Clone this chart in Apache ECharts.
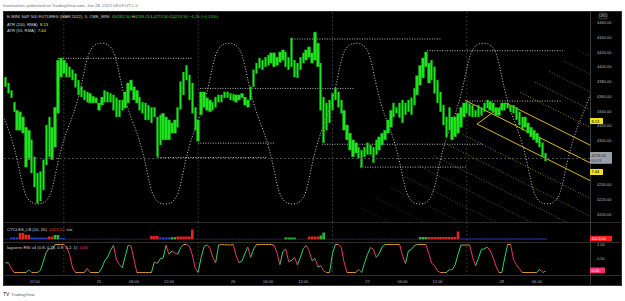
<!DOCTYPE html>
<html>
<head>
<meta charset="utf-8">
<script src="https://cdn.jsdelivr.net/npm/echarts@6/dist/echarts.min.js"></script>
<style>
  html, body { margin: 0; padding: 0; background: #fff; }
  #chart { width: 625px; height: 301px; }
</style>
</head>
<body>
<div id="chart"></div>
<script>
// ---- data (x values are half-hour bar slots from the left edge of the chart) ----
var priceLow = [4373,4364,4358,4339,4314,4314,4310,4264,4274,4256,4237,4215,4218,4233,4267,4278,4274,4291,4337,4386,
  4391,4386,4386,4382,4372,4362,4359,4355,4352,4351,4351,4351,4341,4348,4352,4352,4352,4341,4332,4332,
  4341,4344,4351,4368,4355,4351,4341,4337,4328,4328,4324,4332,4278,4294,4301,4301,4301,4310,4310,4318,
  4342,4362,4382,4355,4337,4314,4299,4335,4345,4341,4339,4341,4345,4352,4352,4358,4358,4355,4354,4352,
  4355,4358,4348,4345,4355,4373,4391,4398,4396,4400,4402,4405,4400,4402,4406,4409,4400,4396,4400,4386,
  4385,4396,4405,4409,4413,4405,4409,4400,4341,4297,4314,4324,4341,4355,4345,4337,4314,4301,4287,4278,
  4283,4276,4264,4278,4281,4281,4270,4281,4287,4294,4301,4310,4318,4332,4337,4331,4324,4335,4339,4335,
  4348,4362,4375,4385,4400,4378,4382,4364,4351,4339,4321,4305,4314,4301,4305,4310,4318,4332,4337,4333,
  4332,4332,4332,4334,4339,4344,4341,4339,4334,4334,4341,4341,4344,4339,4337,4328,4321,4314,4318,4310,
  4305,4301,4297,4291,4278,4272];
var priceHigh = [4386,4378,4368,4352,4341,4339,4332,4318,4314,4301,4278,4256,4258,4274,4321,4332,4318,4345,4409,4412,
  4409,4405,4400,4396,4391,4382,4373,4368,4366,4364,4360,4358,4351,4359,4368,4366,4364,4362,4358,4355,
  4355,4366,4378,4382,4373,4368,4359,4352,4351,4348,4345,4345,4332,4335,4337,4332,4328,4324,4328,4345,
  4380,4393,4402,4389,4378,4345,4328,4366,4366,4358,4355,4352,4359,4362,4362,4366,4366,4364,4363,4362,
  4362,4364,4359,4355,4373,4396,4405,4412,4409,4413,4416,4419,4419,4413,4420,4423,4420,4413,4439,4409,
  4405,4413,4419,4423,4427,4419,4447,4432,4405,4359,4351,4355,4364,4371,4366,4355,4341,4321,4310,4301,
  4297,4291,4287,4291,4297,4294,4291,4301,4305,4310,4314,4328,4341,4351,4345,4351,4355,4351,4355,4358,
  4371,4388,4402,4412,4420,4405,4409,4400,4382,4366,4348,4332,4345,4332,4332,4337,4345,4351,4352,4350,
  4348,4341,4348,4345,4351,4355,4353,4351,4345,4344,4351,4351,4351,4348,4348,4345,4339,4332,4332,4324,
  4318,4314,4310,4305,4297,4283];
var lastClose = 4276.5;

var rsiValues = [0.34,0.35,0.14,0,0,0,0,0,0.09,0,0,0,0.08,0.41,0.73,0.86,0.83,1,1,1,
  1,0.9,0.63,0.16,0,0,0,0,0.14,0,0,0,0,0.16,0.42,0.55,0.79,0.97,0.45,0.29,
  0.17,0.57,0.97,0.95,0.48,0,0,0,0,0,0,0.38,0.32,0.49,0.52,0.97,0.65,0.77,0.7,0.65,
  0.89,1,1,0.94,0.63,0.15,0,0.53,0.92,0.99,0.87,0.55,0.35,0.98,1,0.99,0.99,0.98,1,0.6,
  0.35,0.41,0.67,0.91,0.54,0.84,1,1,1,1,1,1,0.97,0.71,0.28,0.74,0.84,0.39,0.43,0.54,
  0.27,0.54,0.85,0.97,0.77,0.42,0.51,0.2,0.24,0.05,0,0,0.68,1,1,0.9,0.36,0,0,0,
  0,0.11,0,0.35,0.65,0.89,0.83,0.54,0.68,0.91,1,1,1,1,1,1,0.6,0.32,0.77,0.82,
  0.96,1,1,1,1,0.67,0.33,0.24,0.05,0,0,0,0.1,0.1,0.27,0.65,0.98,0.98,0.98,0.98,
  0.54,0.24,0.51,0.83,0.84,0.91,0.79,0.53,0.23,0,0,0.53,1,1,0.47,0.28,0.14,0,0,0,
  0,0,0,0.12,0,0.05];

// cycles histogram: [first slot, last slot, height, tone]
var cycleRuns = [[0,1,0.8,'d'],[2,4,2,'b'],[5,6,6.5,'r'],[7,8,4.8,'r'],[9,14,2,'b'],[15,16,3,'r'],[17,18,4.5,'g'],
  [19,20,1.5,'b'],[21,49,0.8,'d'],[50,52,3.5,'r'],[53,56,2,'b'],[57,58,2.3,'g'],[59,63,3,'r'],[64,64,10,'r'],
  [65,95,0.8,'d'],[96,99,2,'g'],[100,103,0.8,'d'],[104,107,3,'r'],[108,108,4,'g'],[109,109,7,'g'],
  [110,141,0.8,'d'],[142,144,2.5,'g'],[145,154,2.5,'r'],[155,155,8,'r'],[156,185,1,'b']];

// 4280 and 4260 sit under the last-price and ATR boxes, as in the source
var priceTicks = [4200,4220,4240,4300,4320,4340,4360,4380,4400,4420,4440,4460];
var rsiTicks = [0.5, 1];
var timeTickPos = [10,32,44,56,78,90,102,124,136,148,170,182];
var timeTickText = ['12:00','25','06:00','12:00','26','06:00','12:00','27','06:00','12:00','28','06:00'];
var sessionBreaks = [20,66,112,158];

// sine line drawing: peaks, troughs and crossings
var sineX = [-10.7,0.2,11.1,22,32.9,43.8,54.7,65.6,76.5,87.4,98.3,109.2,120.1,131,141.9,152.8,163.7,174.6,185.5,196.4,207.3];
var sineY = [4432,4323,4214,4323,4432,4323,4214,4323,4432,4323,4214,4323,4432,4323,4214,4323,4432,4323,4214,4323,4432];

// dotted horizontal levels: [from slot, to slot, price]
var levelSegments = [[18,64.2,4411.5],[65.9,92.3,4296.5],[52.2,89.6,4277],[66.6,119.7,4370.7],[98.1,149.5,4437.7],
  [144.4,190.9,4421.8],[108.4,163.5,4295],[121.4,158.1,4264],[158.1,190.6,4353.6]];

// parallel channel anchors and extension levels (in half widths, 0 = lower line, 2 = upper line)
var channelLowerStart = [161.5, 4322.4];
var channelUpperStart = [171.4, 4350.9];
var channelMidStartX = 157.4;
var channelSlope = -1.98;
var channelEndX = 206;
var fanLevels = [-8,-7,-6,-5,-4,-3,-2,-1,3,4,5,6,7];

var atrValues = ['8.13', '7.44'];
var atrScaleLevels = [4326.5, 4257.4];

// ---- chart ----
var FONT = '"Liberation Sans", Arial, sans-serif';
var AXIS_TXT = '#b2b5be';
var X_MIN = -0.5, X_MAX = 200.2;

var chart = echarts.init(document.getElementById('chart'), null, {renderer: 'svg'});

var candleData = priceLow.map(function (lo, i) { return [i, lo, priceHigh[i], lo, priceHigh[i]]; });
var sineData = sineX.map(function (x, i) { return [x, sineY[i]]; });
var levelData = levelSegments.map(function (s) { return [s[0], s[2], s[1], s[2]]; });

function channelPoint(k) {
  return [channelLowerStart[0] + k * (channelUpperStart[0] - channelLowerStart[0]) / 2,
          channelLowerStart[1] + k * (channelUpperStart[1] - channelLowerStart[1]) / 2];
}
function channelLine(k, startX) {
  var p = channelPoint(k);
  if (startX != null) { p = [startX, p[1] + channelSlope * (startX - p[0])]; }
  return [p[0], p[1], channelEndX, p[1] + channelSlope * (channelEndX - p[0]), k];
}
var channelData = [channelLine(0), channelLine(1, channelMidStartX), channelLine(2),
  [channelLowerStart[0], channelLowerStart[1], channelUpperStart[0], channelUpperStart[1], 0]];
var fanData = fanLevels.map(function (k) { return channelLine(k); });

var rsiData = [];
for (var i = 0; i < rsiValues.length - 1; i++) {
  var a = rsiValues[i], b = rsiValues[i + 1];
  var cls = ((a >= 0.97 && b >= 0.97) || (a <= 0.03 && b <= 0.03)) ? 0 : (b > a ? 1 : 2);
  rsiData.push([i, a, i + 1, b, cls]);
}
var rsiColors = ['#d9962a', '#2bd66a', '#ee3566'];

var cycleData = [];
var toneColors = {r: '#e3261f', g: '#27b83a', b: '#2744d6', d: '#3b2a55'};
cycleRuns.forEach(function (r) {
  for (var s = r[0]; s <= r[1]; s++) {
    cycleData.push({value: [s, r[2]], itemStyle: {color: toneColors[r[3]]}});
  }
});

function segmentRenderer(color, dash, width) {
  return function (params, api) {
    var p0 = api.coord([api.value(0), api.value(1)]);
    var p1 = api.coord([api.value(2), api.value(3)]);
    return {type: 'line', shape: {x1: p0[0], y1: p0[1], x2: p1[0], y2: p1[1]},
      style: {stroke: color, lineWidth: width, lineDash: dash, fill: null}};
  };
}

function breakRenderer(params, api) {
  var x = api.coord([api.value(0), 0])[0];
  var cs = params.coordSys;
  return {type: 'line', shape: {x1: x, y1: cs.y, x2: x, y2: cs.y + cs.height},
    style: {stroke: '#3c3c3c', lineWidth: 0.8, lineDash: [2, 2], fill: null}};
}

function xAxisFor(gi, showLabels) {
  return {
    type: 'value', gridIndex: gi, min: X_MIN, max: X_MAX,
    axisLine: {show: false}, axisTick: {show: false}, splitLine: {show: false},
    axisLabel: {
      show: showLabels, customValues: timeTickPos, margin: 4,
      fontSize: 4, fontFamily: FONT, color: AXIS_TXT,
      formatter: function (v) { var k = timeTickPos.indexOf(v); return k >= 0 ? timeTickText[k] : ''; }
    }
  };
}

var option = {
  animation: false,
  backgroundColor: '#ffffff',
  grid: [
    {left: 4, right: 35, top: 12, height: 210},
    {left: 4, right: 35, top: 222, height: 20},
    {left: 4, right: 35, top: 242, height: 33}
  ],
  xAxis: [xAxisFor(0, false), xAxisFor(1, false), xAxisFor(2, true)],
  yAxis: [
    {type: 'value', gridIndex: 0, position: 'right', min: 4189.56, max: 4474.3,
      axisLine: {show: false}, axisTick: {show: false}, splitLine: {show: false},
      axisLabel: {customValues: priceTicks, margin: 7, fontSize: 4, fontFamily: FONT, color: AXIS_TXT,
        formatter: function (v) { return v.toFixed(2); }}},
    {type: 'value', gridIndex: 1, position: 'right', min: -2.5, max: 17.5,
      axisLine: {show: false}, axisTick: {show: false}, splitLine: {show: false}, axisLabel: {show: false}},
    {type: 'value', gridIndex: 2, position: 'right', min: -0.089, max: 1.089,
      axisLine: {show: false}, axisTick: {show: false}, splitLine: {show: false},
      axisLabel: {customValues: rsiTicks, margin: 7, fontSize: 4, fontFamily: FONT, color: AXIS_TXT,
        formatter: function (v) { return v.toFixed(2); }}}
  ],
  series: [
    {type: 'custom', name: 'breaks0', xAxisIndex: 0, yAxisIndex: 0, data: sessionBreaks.map(function (v) { return [v]; }),
      renderItem: breakRenderer, silent: true, z: 1},
    {type: 'custom', name: 'breaks1', xAxisIndex: 1, yAxisIndex: 1, data: sessionBreaks.map(function (v) { return [v]; }),
      renderItem: breakRenderer, silent: true, z: 1},
    {type: 'custom', name: 'breaks2', xAxisIndex: 2, yAxisIndex: 2, data: sessionBreaks.map(function (v) { return [v]; }),
      renderItem: breakRenderer, silent: true, z: 1},
    {type: 'custom', name: 'fan', xAxisIndex: 0, yAxisIndex: 0, data: fanData, clip: true, silent: true, z: 2,
      renderItem: function (params, api) {
        var p0 = api.coord([api.value(0), api.value(1)]);
        var p1 = api.coord([api.value(2), api.value(3)]);
        var k = api.value(4);
        var op = k < 0 ? Math.max(0.3, 0.85 + 0.08 * k) : Math.max(0.35, 1.0 - 0.13 * (k - 2));
        return {type: 'line', shape: {x1: p0[0], y1: p0[1], x2: p1[0], y2: p1[1]},
          style: {stroke: '#c9b020', opacity: op, lineWidth: 0.9, lineDash: [1, 1.8], fill: null}};
      }},
    {type: 'custom', name: 'channel', xAxisIndex: 0, yAxisIndex: 0, data: channelData, clip: true, silent: true, z: 3,
      renderItem: segmentRenderer('#d9b81d', null, 1)},
    {type: 'line', name: 'sine', xAxisIndex: 0, yAxisIndex: 0, data: sineData, smooth: 0.6,
      symbol: 'none', silent: true, z: 3,
      lineStyle: {color: '#c9c9c9', width: 1, type: [1, 1.8]}},
    {type: 'custom', name: 'levels', xAxisIndex: 0, yAxisIndex: 0, data: levelData, clip: true, silent: true, z: 3,
      renderItem: segmentRenderer('#bdbdbd', [1, 1.5], 1)},
    {type: 'candlestick', name: 'ES1!', xAxisIndex: 0, yAxisIndex: 0, data: candleData, barWidth: 2.9, z: 4,
      encode: {x: 0, y: [1, 2, 3, 4]},
      itemStyle: {color: '#1fe31f', color0: '#1fe31f', borderColor: '#13a813', borderColor0: '#13a813', borderWidth: 0.35},
      markLine: {silent: true, symbol: 'none', label: {show: false},
        lineStyle: {color: '#5a5a5a', width: 0.8, type: [2, 2]}, data: [{yAxis: lastClose}]}},
    {type: 'bar', name: 'CYCLES_LB', xAxisIndex: 1, yAxisIndex: 1, data: cycleData, barWidth: 2.6, silent: true, z: 4},
    {type: 'custom', name: 'Laguerre RSI', xAxisIndex: 2, yAxisIndex: 2, data: rsiData, clip: true, silent: true, z: 4,
      renderItem: function (params, api) {
        var p0 = api.coord([api.value(0), api.value(1)]);
        var p1 = api.coord([api.value(2), api.value(3)]);
        return {type: 'line', shape: {x1: p0[0], y1: p0[1], x2: p1[0], y2: p1[1]},
          style: {stroke: rsiColors[api.value(4)], lineWidth: 1, fill: null}};
      }}
  ],
  graphic: [
    {type: 'rect', shape: {x: 3, y: 11, width: 619, height: 275}, style: {fill: '#000000'}, z: -10, silent: true}
  ]
};
chart.setOption(option);

// ---- overlays that need pixel positions from the axes ----
function txt(x, y, text, fill, size, align) {
  return {type: 'text', x: x, y: y, silent: true, z: 100,
    style: {text: text, fill: fill, font: (size || 4.2) + 'px ' + FONT,
      align: align || 'left', verticalAlign: 'middle', textAlign: align || 'left', textVerticalAlign: 'middle'}};
}
function richTxt(x, y, text, rich) {
  return {type: 'text', x: x, y: y, silent: true, z: 100,
    style: {text: text, font: '4.2px ' + FONT, fill: '#d1d4dc', verticalAlign: 'middle', textVerticalAlign: 'middle', rich: rich}};
}
function box(x, yc, w, h, bg, label, color) {
  return [
    {type: 'rect', shape: {x: x, y: yc - h / 2, width: w, height: h, r: 0.6}, style: {fill: bg}, z: 90, silent: true},
    txt(x + 1.5, yc, label, color, 4)
  ];
}
function hline(y, x1, x2, c) {
  return {type: 'line', shape: {x1: x1, y1: y, x2: x2, y2: y}, style: {stroke: c, lineWidth: 1}, z: 80, silent: true};
}
function vline(x, y1, y2, c) {
  return {type: 'line', shape: {x1: x, y1: y1, x2: x, y2: y2}, style: {stroke: c, lineWidth: 1}, z: 80, silent: true};
}

var rich = {
  w: {fill: '#d1d4dc', color: '#d1d4dc', font: '4.2px ' + FONT},
  g: {fill: '#26d926', color: '#26d926', font: '4.2px ' + FONT},
  y: {fill: '#f0e21c', color: '#f0e21c', font: '4.2px ' + FONT},
  r: {fill: '#f0322a', color: '#f0322a', font: '4.2px ' + FONT},
  p: {fill: '#ff3b7a', color: '#ff3b7a', font: '4.2px ' + FONT}
};

var yLast = chart.convertToPixel({yAxisIndex: 0}, lastClose);
var yAtr0 = chart.convertToPixel({yAxisIndex: 0}, atrScaleLevels[0]);
var yAtr1 = chart.convertToPixel({yAxisIndex: 0}, atrScaleLevels[1]);
var yRsi0 = chart.convertToPixel({yAxisIndex: 2}, rsiValues[rsiValues.length - 1]);

var overlays = [
  {type: 'rect', shape: {x: 3, y: 11, width: 619, height: 275}, style: {fill: '#000000'}, z: -10, silent: true},
  hline(11.5, 3, 622, '#2e2e2e'), hline(222.5, 3, 622, '#2e2e2e'), hline(242.5, 3, 622, '#2e2e2e'),
  hline(275.5, 3, 622, '#2e2e2e'), hline(285.5, 3, 622, '#3a3a3a'),
  vline(590.5, 11, 286, '#3a3a3a'), vline(3.5, 11, 286, '#2e2e2e'), vline(621.5, 11, 286, '#2e2e2e'),
  txt(3, 5.5, 'finemarkets published on TradingView.com, Jan 28, 2022 08:09 UTC-5', '#6f7380', 4.3),
  txt(3, 294, 'TV', '#131722', 5),
  txt(11, 294, 'TradingView', '#5d606b', 4.3),
  richTxt(7, 16.5, '{w|E-MINI S&P 500 FUTURES (MAR 2022), 5, CME_MINI  O}{g|4282.50}{w| H}{g|4283.25}{w| L}{g|4273.50}{w| C}{g|4276.50 −6.25 (−0.15%)}', rich),
  richTxt(7, 24, '{w|ATR (200, RMA)  }{y|' + atrValues[0] + '}', rich),
  richTxt(7, 30.5, '{w|ATR (55, RMA)  }{y|' + atrValues[1] + '}', rich),
  richTxt(7, 229, '{w|CYCLES_LB (10, 20)  }{r|4423.00}{w|  n/a}', rich),
  richTxt(7, 247.5, '{w|laguerre RSI v4 (0.8, 0.75, 0.8, 0.2, 1)  }{p|0.00}', rich),
  {type: 'rect', shape: {x: 599, y: 13.2, width: 8, height: 5.6, r: 1}, style: {fill: '#000', stroke: '#8a8e99', lineWidth: 0.5}, z: 95, silent: true},
  txt(603, 16, 'USD', '#d1d4dc', 3.4, 'center')
];
overlays = overlays.concat(box(590, yAtr0, 13, 6, '#f2e21b', atrValues[0], '#000'));
overlays = overlays.concat(box(590, yAtr1, 13, 6, '#f2e21b', atrValues[1], '#000'));
overlays.push({type: 'rect', shape: {x: 590, y: yLast - 5.8, width: 22, height: 11.6, r: 0.6}, style: {fill: '#9a9ea8'}, z: 90, silent: true});
overlays.push(txt(591.5, yLast - 2.6, lastClose.toFixed(2), '#1b1d24', 4));
overlays.push(txt(591.5, yLast + 2.7, '00:53', '#3b3e47', 4));
overlays = overlays.concat(box(590, 238.5, 22, 5.6, '#ff1a1a', '4423.00', '#ffffff'));
overlays = overlays.concat(box(590, yRsi0 - 0.7, 15, 5.6, '#ff2d72', rsiValues[rsiValues.length - 1].toFixed(2), '#ffffff'));

chart.setOption({graphic: overlays}, {replaceMerge: ['graphic']});
</script>
</body>
</html>
